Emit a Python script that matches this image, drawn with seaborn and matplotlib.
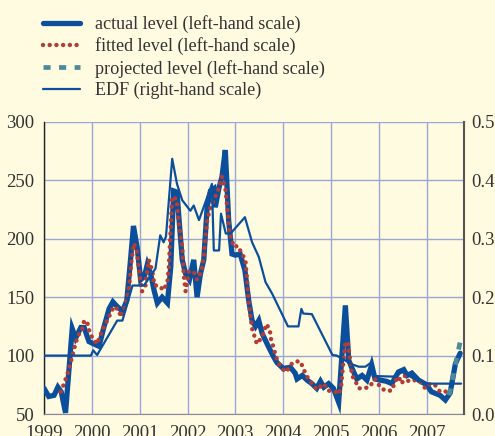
import numpy as np
import pandas as pd
import matplotlib
matplotlib.use("Agg")
import matplotlib.pyplot as plt
import seaborn as sns
from matplotlib.ticker import FormatStrFormatter

# actual level (left-hand scale)
actual_t = [1999.00, 1999.10, 1999.21, 1999.29, 1999.36, 1999.45, 1999.59, 1999.66, 1999.77, 1999.84,
            1999.94, 2000.04, 2000.15, 2000.25, 2000.36, 2000.44, 2000.53, 2000.64, 2000.73, 2000.80,
            2000.87, 2000.95, 2001.02, 2001.10, 2001.16, 2001.23, 2001.30, 2001.37, 2001.47, 2001.58,
            2001.65, 2001.71, 2001.78, 2001.83, 2001.89, 2001.96, 2002.04, 2002.13, 2002.20, 2002.27,
            2002.34, 2002.41, 2002.48, 2002.55, 2002.58, 2002.66, 2002.72, 2002.79, 2002.86, 2002.93,
            2003.00, 2003.10, 2003.20, 2003.28, 2003.35, 2003.42, 2003.49, 2003.56, 2003.63, 2003.70,
            2003.80, 2003.87, 2004.00, 2004.15, 2004.25, 2004.29, 2004.40, 2004.50, 2004.60, 2004.70,
            2004.78, 2004.85, 2004.95, 2005.05, 2005.16, 2005.30, 2005.37, 2005.44, 2005.54, 2005.65,
            2005.75, 2005.85, 2005.92, 2006.03, 2006.16, 2006.27, 2006.41, 2006.52, 2006.59, 2006.69,
            2006.83, 2007.00, 2007.10, 2007.28, 2007.39, 2007.49, 2007.60, 2007.70]
actual_v = [72, 65, 66, 73, 69, 51, 123, 115, 124, 124,
            112, 110, 108, 124, 140, 146, 142, 138, 147, 178,
            211, 192, 165, 168, 178, 170, 156, 145, 150, 145,
            176, 241, 240, 213, 182, 170, 165, 182, 150, 170,
            182, 227, 241, 243, 227, 244, 253, 276, 216, 187,
            186, 187, 173, 147, 130, 125, 130, 119, 113, 107,
            99, 94, 89, 90, 85, 80, 83, 79, 76, 72,
            78, 73, 76, 72, 60, 143, 96, 89, 80, 83,
            79, 92, 80, 79, 78, 76, 86, 88, 83, 85,
            79, 75, 69, 66, 62, 68, 93, 102]

# fitted level (left-hand scale)
fitted_t = [1999.35, 1999.42, 1999.52, 1999.63, 1999.71, 1999.80, 1999.84, 1999.90, 1999.94, 2000.01,
            2000.11, 2000.22, 2000.32, 2000.46, 2000.57, 2000.60, 2000.68, 2000.73, 2000.78, 2000.83,
            2000.88, 2000.94, 2000.98, 2001.05, 2001.12, 2001.19, 2001.26, 2001.31, 2001.40, 2001.50,
            2001.58, 2001.61, 2001.68, 2001.77, 2001.82, 2001.89, 2001.92, 2001.96, 2002.03, 2002.13,
            2002.20, 2002.29, 2002.34, 2002.41, 2002.48, 2002.55, 2002.66, 2002.72, 2002.79, 2002.85,
            2002.88, 2002.97, 2003.05, 2003.14, 2003.21, 2003.28, 2003.35, 2003.45, 2003.56, 2003.65,
            2003.72, 2003.75, 2003.80, 2003.84, 2003.91, 2004.00, 2004.07, 2004.15, 2004.25, 2004.36,
            2004.43, 2004.50, 2004.60, 2004.71, 2004.85, 2004.95, 2005.09, 2005.16, 2005.21, 2005.26,
            2005.30, 2005.35, 2005.40, 2005.44, 2005.51, 2005.58, 2005.68, 2005.80, 2005.92, 2006.03,
            2006.13, 2006.27, 2006.34, 2006.41, 2006.48, 2006.55, 2006.62, 2006.76, 2006.86, 2006.97,
            2007.07, 2007.17, 2007.28, 2007.38, 2007.45]
fitted_v = [69, 76, 88, 106, 117, 123, 130, 129, 122, 115,
            110, 122, 130, 142, 139, 133, 140, 147, 160, 182,
            196, 190, 175, 155, 160, 182, 173, 160, 160, 156,
            163, 176, 236, 234, 213, 193, 170, 155, 172, 172,
            165, 172, 185, 216, 227, 233, 244, 253, 244, 219,
            205, 193, 194, 187, 182, 147, 123, 110, 116, 127,
            122, 113, 107, 100, 93, 88, 86, 92, 95, 95,
            88, 82, 76, 71, 76, 70, 69, 67, 73, 96,
            110, 112, 96, 83, 78, 72, 72, 73, 80, 73,
            70, 70, 78, 82, 76, 83, 78, 79, 78, 72,
            76, 75, 69, 69, 70]

# projected level (left-hand scale)
proj_t = [2007.47, 2007.72]
proj_v = [66, 116]

# EDF (right-hand scale)
edf_t = [1999.00, 1999.98, 2000.03, 2000.11, 2000.53, 2000.64, 2000.85, 2001.09, 2001.33, 2001.43,
         2001.50, 2001.55, 2001.68, 2001.78, 2001.89, 2002.06, 2002.13, 2002.24, 2002.45, 2002.51,
         2002.55, 2002.66, 2002.70, 2002.80, 2002.90, 2003.20, 2003.35, 2003.49, 2003.63, 2003.77,
         2003.87, 2004.10, 2004.32, 2004.38, 2004.42, 2004.60, 2005.03, 2005.12, 2005.44, 2005.58,
         2005.72, 2005.82, 2005.92, 2006.30, 2006.50, 2006.72, 2007.00, 2007.72]
edf_v = [0.100, 0.100, 0.109, 0.101, 0.160, 0.160, 0.220, 0.220, 0.249, 0.306,
         0.294, 0.304, 0.437, 0.394, 0.366, 0.348, 0.357, 0.332, 0.380, 0.394,
         0.280, 0.280, 0.343, 0.309, 0.309, 0.337, 0.294, 0.269, 0.226, 0.206,
         0.189, 0.150, 0.150, 0.180, 0.172, 0.171, 0.101, 0.100, 0.085, 0.081,
         0.081, 0.087, 0.065, 0.064, 0.072, 0.061, 0.052, 0.052]

years = list(range(1999, 2008))

bg = "#fffbe1"
blue = "#0b4f9c"
red = "#b23c36"
teal = "#4b8a9c"
grid_c = "#9aa6d6"

sns.set_style("white")
plt.rcParams["font.family"] = ["Liberation Serif", "DejaVu Serif"]
plt.rcParams["font.size"] = 13.5

fig = plt.figure(figsize=(4.95, 4.36), dpi=100, facecolor=bg)
ax = fig.add_axes([44 / 495, 1 - 414 / 436, (464 - 44) / 495, (414 - 122) / 436])
ax.set_facecolor(bg)
ax2 = ax.twinx()

df_act = pd.DataFrame({"t": actual_t, "v": actual_v})
df_fit = pd.DataFrame({"t": fitted_t, "v": fitted_v})
df_proj = pd.DataFrame({"t": proj_t, "v": proj_v})
df_edf = pd.DataFrame({"t": edf_t, "v": edf_v})

sns.lineplot(data=df_act, x="t", y="v", ax=ax, color=blue, linewidth=3.8,
             estimator=None, sort=False, solid_joinstyle="miter", zorder=3)
sns.lineplot(data=df_fit, x="t", y="v", ax=ax, color=red, linewidth=3.2,
             linestyle=(0, (0.01, 1.5)), dash_capstyle="round",
             estimator=None, sort=False, zorder=4)
sns.lineplot(data=df_proj, x="t", y="v", ax=ax, color=teal, linewidth=3.4,
             linestyle=(0, (1.5, 1.8)), estimator=None, sort=False, zorder=5)
sns.lineplot(data=df_edf, x="t", y="v", ax=ax2, color=blue, linewidth=1.6,
             estimator=None, sort=False, zorder=3)

ax.set_xlim(1999, 2007.78)
ax.set_ylim(50, 300)
ax2.set_ylim(0, 0.5)
ax.set_xticks(years)
ax.set_xticklabels([str(y) for y in years])
ax.set_yticks(range(50, 301, 50))
ax2.set_yticks(np.arange(0, 0.51, 0.1))
ax2.yaxis.set_major_formatter(FormatStrFormatter("%.1f"))

ax.grid(True, color=grid_c, linewidth=1.0)
ax2.grid(False)
ax.set_axisbelow(True)
ax.set_xlabel("")
ax.set_ylabel("")
ax2.set_xlabel("")
ax2.set_ylabel("")

for a in (ax, ax2):
    a.spines["top"].set_visible(False)
ax.spines["left"].set_color("#222222")
ax.spines["left"].set_linewidth(1.0)
ax.spines["right"].set_visible(False)
ax2.spines["left"].set_visible(False)
ax2.spines["right"].set_color("#555555")
ax2.spines["right"].set_linewidth(1.5)
ax.spines["bottom"].set_color("#8a8a96")
ax2.spines["bottom"].set_visible(False)

ax.tick_params(axis="x", direction="out", length=4, color="#555555", colors="#333333", pad=4)
ax.tick_params(axis="y", length=0, colors="#333333", pad=7)
ax2.tick_params(axis="y", length=0, colors="#333333", pad=5)

handles = [ax.lines[0], ax.lines[1], ax.lines[2], ax2.lines[0]]
labels = ["actual level (left-hand scale)", "fitted level (left-hand scale)",
          "projected level (left-hand scale)", "EDF (right-hand scale)"]
fig.legend(handles, labels, loc="upper left", bbox_to_anchor=(43 / 495, 1 - 15 / 436),
           frameon=False, fontsize=13.1, handlelength=2.05, handletextpad=0.8, labelspacing=0.24,
           borderpad=0, borderaxespad=0, labelcolor="#333333")

fig.savefig("out.png", dpi=100, facecolor=bg)
